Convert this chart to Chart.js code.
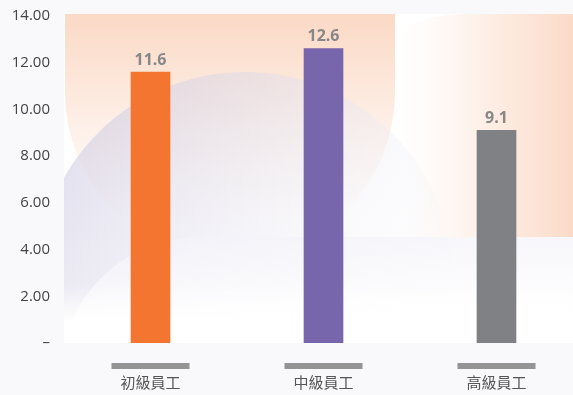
<!DOCTYPE html>
<html>
<head>
<meta charset="utf-8">
<script src="https://cdn.jsdelivr.net/npm/chart.js@4"></script>
<style>
    html, body { margin: 0; padding: 0; background: #f9f9fc; overflow: hidden; }
    #wrap { width: 583px; height: 395px; }
</style>
</head>
<body>
<div id="wrap"><canvas id="staffChart"></canvas></div>
<script>
const categories = ["初級員工", "中級員工", "高級員工"];
const values = [11.6, 12.6, 9.1];
const barColors = ["#f37530", "#7866ad", "#808184"];
const yTicks = [0, 2, 4, 6, 8, 10, 12, 14];

// soft decorative shapes behind the bars
const backdrop = {
    id: "backdrop",
    beforeDatasetsDraw(chart) {
        const { ctx, chartArea: a } = chart;
        const top = 14;
        ctx.save();
        ctx.beginPath();
        ctx.rect(a.left, top, a.right - a.left, a.bottom - top);
        ctx.clip();

        ctx.fillStyle = "#ffffff";
        ctx.fillRect(a.left, top, a.right - a.left, a.bottom - top);

        // peach U shape on the left
        let g = ctx.createLinearGradient(0, top, 0, 250);
        g.addColorStop(0, "#fbd9c5");
        g.addColorStop(0.4, "#fdece2");
        g.addColorStop(1, "rgba(255,250,246,0)");
        ctx.fillStyle = g;
        ctx.beginPath();
        ctx.moveTo(65, top);
        ctx.lineTo(395, top);
        ctx.lineTo(395, 93);
        ctx.arc(230, 93, 165, 0, Math.PI, false);
        ctx.closePath();
        ctx.fill();

        // peach block on the right, fading in from the left
        g = ctx.createLinearGradient(400, 0, 590, 0);
        g.addColorStop(0, "rgba(253,240,232,0)");
        g.addColorStop(0.5, "rgba(252,228,214,0.7)");
        g.addColorStop(1, "#fbd6c0");
        ctx.fillStyle = g;
        ctx.beginPath();
        ctx.moveTo(380, 237);
        ctx.lineTo(380, 60);
        ctx.quadraticCurveTo(395, top, 470, top);
        ctx.lineTo(590, top);
        ctx.lineTo(590, 237);
        ctx.closePath();
        ctx.fill();

        // lavender circle, darker toward its upper-left rim, fading to the right
        g = ctx.createLinearGradient(110, 90, 430, 320);
        g.addColorStop(0, "rgba(208,204,226,0.6)");
        g.addColorStop(0.5, "rgba(230,230,242,0.4)");
        g.addColorStop(1, "rgba(244,244,250,0.05)");
        ctx.fillStyle = g;
        ctx.beginPath();
        ctx.arc(245, 280, 208, 0, Math.PI * 2);
        ctx.fill();

        // lower band fading to white
        g = ctx.createLinearGradient(0, 237, 0, 316);
        g.addColorStop(0, "#f4f3f9");
        g.addColorStop(1, "#ffffff");
        ctx.fillStyle = g;
        ctx.beginPath();
        ctx.moveTo(60, 350);
        ctx.lineTo(60, 330);
        ctx.arcTo(60, 237, 200, 237, 140);
        ctx.lineTo(590, 237);
        ctx.lineTo(590, 350);
        ctx.closePath();
        ctx.globalAlpha = 0.7;
        ctx.fill();
        ctx.globalAlpha = 1;
        g = ctx.createLinearGradient(0, 285, 0, 322);
        g.addColorStop(0, "rgba(255,255,255,0)");
        g.addColorStop(1, "#ffffff");
        ctx.fillStyle = g;
        ctx.fillRect(a.left, 285, a.right - a.left, 65);

        ctx.restore();
    }
};

// value labels above bars and grey strips above category names
const annotate = {
    id: "annotate",
    afterDraw(chart) {
        const { ctx } = chart;
        const meta = chart.getDatasetMeta(0);
        const xScale = chart.scales.x;
        ctx.save();
        ctx.fillStyle = "#878787";
        ctx.font = "bold 16px 'Open Sans', sans-serif";
        ctx.textAlign = "center";
        ctx.textBaseline = "bottom";
        meta.data.forEach((bar, i) => {
            ctx.fillText(values[i].toFixed(1), bar.x, bar.y - 4);
        });
        ctx.fillStyle = "#949494";
        categories.forEach((c, i) => {
            const x = xScale.getPixelForValue(i);
            ctx.fillRect(x - 39, 363, 78, 6);
        });
        ctx.restore();
    }
};

new Chart(document.getElementById("staffChart"), {
    type: "bar",
    data: {
        labels: categories,
        datasets: [{
            data: values,
            backgroundColor: barColors,
            barThickness: 39
        }]
    },
    options: {
        responsive: true,
        maintainAspectRatio: false,
        animation: false,
        layout: { padding: { top: 16, left: 0, right: 0, bottom: 0 } },
        plugins: { legend: { display: false }, tooltip: { enabled: false } },
        scales: {
            x: {
                grid: { display: false, drawTicks: false },
                border: { display: false },
                ticks: {
                    padding: 30,
                    color: "#555555",
                    font: { family: "'Noto Sans CJK TC', sans-serif", size: 15 }
                },
                afterFit(scale) { scale.height = 52; }
            },
            y: {
                min: 0,
                max: 14,
                grid: { display: false, drawTicks: false },
                border: { display: false },
                afterBuildTicks(scale) { scale.ticks = yTicks.map(v => ({ value: v })); },
                ticks: {
                    padding: 14,
                    color: "#444444",
                    font: { family: "'Open Sans', sans-serif", size: 15 },
                    callback: v => v === 0 ? "–" : v.toFixed(2)
                },
                afterFit(scale) {
                    scale.width = 64;
                    scale.paddingTop = 0;
                    scale.paddingBottom = 0;
                }
            }
        }
    },
    plugins: [backdrop, annotate]
});
</script>
</body>
</html>
